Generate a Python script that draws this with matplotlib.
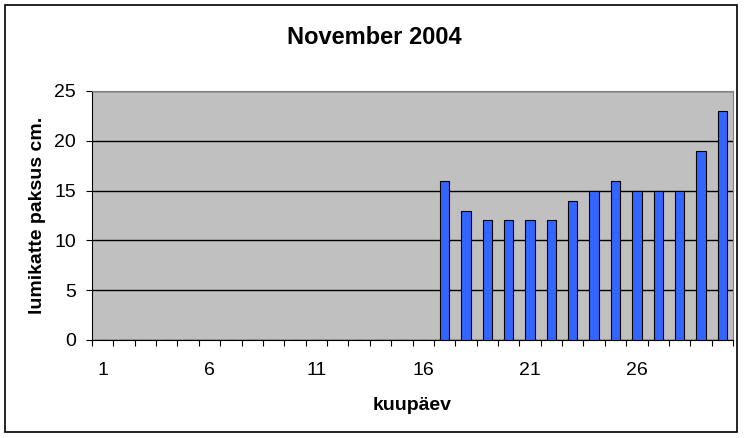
import matplotlib
matplotlib.use("Agg")
import matplotlib.pyplot as plt
from matplotlib.patches import Rectangle
import numpy as np

plt.rcParams['font.family'] = ['Liberation Sans', 'DejaVu Sans']

# snow depth in November 2004, days 1..30 (no data before the 17th)
days = list(range(1, 31))
depth = [0] * 16 + [16, 13, 12, 12, 12, 12, 14, 15, 16, 15, 15, 15, 19, 23]
tick_days = [1, 6, 11, 16, 21, 26]

fig = plt.figure(figsize=(7.48, 4.38), dpi=100)
ax = fig.add_axes([92 / 748, 1 - 340 / 438, (733 - 92) / 748, (340 - 91) / 438])

# outer chart frame like excel
fig.patches.append(Rectangle((5 / 748, 1 - 432 / 438), (737 - 5) / 748, (432 - 5) / 438,
                             transform=fig.transFigure, fill=False, edgecolor='black', lw=1.2))

ax.set_facecolor('#C0C0C0')
x = np.array(days)
ax.bar(x, depth, width=0.44, color='#3366FF', edgecolor='black', linewidth=0.8, zorder=3)

ax.set_xlim(0.5, 30.5)
ax.set_ylim(0, 25)
ax.set_yticks([0, 5, 10, 15, 20, 25])
ax.yaxis.grid(True, color='black', linewidth=1, zorder=1)
ax.set_axisbelow(True)

# ticks between the categories, labels centered on them
ax.set_xticks(np.arange(0.5, 31, 1))
ax.set_xticklabels([])
ax.set_xticks(tick_days, minor=True)
ax.set_xticklabels([str(d) for d in tick_days], minor=True)
ax.tick_params(axis='x', which='minor', length=0, labelsize=14, pad=16)
ax.tick_params(axis='x', which='major', length=4.5, direction='out', color='black')
ax.tick_params(axis='y', length=4.5, labelsize=14, pad=7)

for s in ['top', 'right']:
    ax.spines[s].set_color('#808080')
for s in ['left', 'bottom']:
    ax.spines[s].set_color('black')

fig.text(0.5, 1 - 37 / 438, 'November 2004', fontsize=17, fontweight='bold',
         ha='center', va='center')
ax.set_xlabel('kuupäev', fontsize=14, fontweight='bold', labelpad=13)
ax.set_ylabel('lumikatte paksus cm.', fontsize=14, fontweight='bold', labelpad=6)

fig.savefig('out.png', dpi=100)
